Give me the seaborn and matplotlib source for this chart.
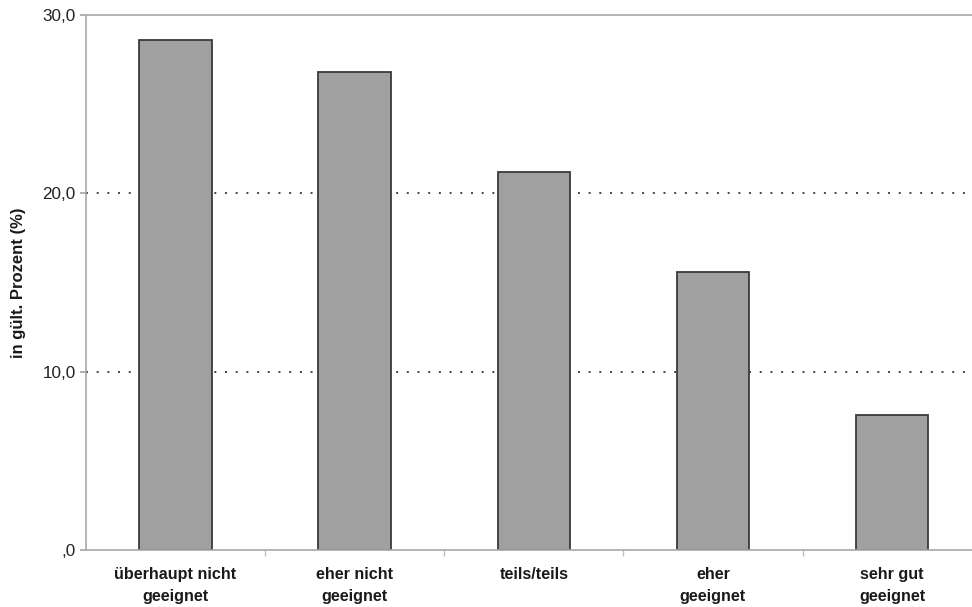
import numpy as np
import pandas as pd
import seaborn as sns
import matplotlib.pyplot as plt
from matplotlib.ticker import FuncFormatter, FixedLocator

# values
categories = ["überhaupt nicht\ngeeignet", "eher nicht\ngeeignet", "teils/teils",
              "eher\ngeeignet", "sehr gut\ngeeignet"]
percent = [28.6, 26.8, 21.2, 15.6, 7.6]
yticks = [0, 10, 20, 30]

sns.set_theme(style="white")
plt.rcParams['font.family'] = ['Liberation Sans', 'DejaVu Sans']

df = pd.DataFrame({"cat": categories, "pct": percent})

fig = plt.figure(figsize=(9.72, 6.07), dpi=100)
ax = fig.add_axes([0.0885, 0.0931, 0.9214, 0.8822])

sns.barplot(data=df, x="cat", y="pct", order=categories, color="#a0a0a0",
            saturation=1, width=0.405, edgecolor="#3a3a3a", linewidth=1.3, ax=ax)

ax.set_xlim(-0.5, len(categories) - 0.5)
ax.set_ylim(0, 30)
ax.set_yticks(yticks)
ax.yaxis.set_major_formatter(FuncFormatter(
    lambda v, p: ",0" if v == 0 else f"{v:.1f}".replace(".", ",")))

# dotted gridlines at 10 and 20
for v in yticks[1:-1]:
    ax.axhline(v, color="#444444", linestyle=(0, (1, 4.5)), lw=1.4, zorder=0)

for side in ["top", "right", "left", "bottom"]:
    ax.spines[side].set_color("#a8a8a8")
    ax.spines[side].set_linewidth(1.2)

ax.xaxis.set_minor_locator(FixedLocator(np.arange(0.5, len(categories) - 0.5, 1)))
ax.tick_params(axis="x", which="major", length=0, pad=12, labelsize=11.6)
ax.tick_params(axis="x", which="minor", bottom=True, length=4, color="#c0c0c0")
ax.tick_params(axis="y", left=True, length=4, color="#a8a8a8", labelsize=12.3,
               labelcolor="#222222")
for lbl in ax.get_xticklabels():
    lbl.set_fontweight("bold")
    lbl.set_color("#1a1a1a")
    lbl.set_verticalalignment("top")
    lbl.set_linespacing(1.55)

ax.set_xlabel("")
ax.set_ylabel("in gült. Prozent (%)", fontsize=12, fontweight="bold",
              color="#1a1a1a", labelpad=12)

fig.savefig("out.png", dpi=100)
